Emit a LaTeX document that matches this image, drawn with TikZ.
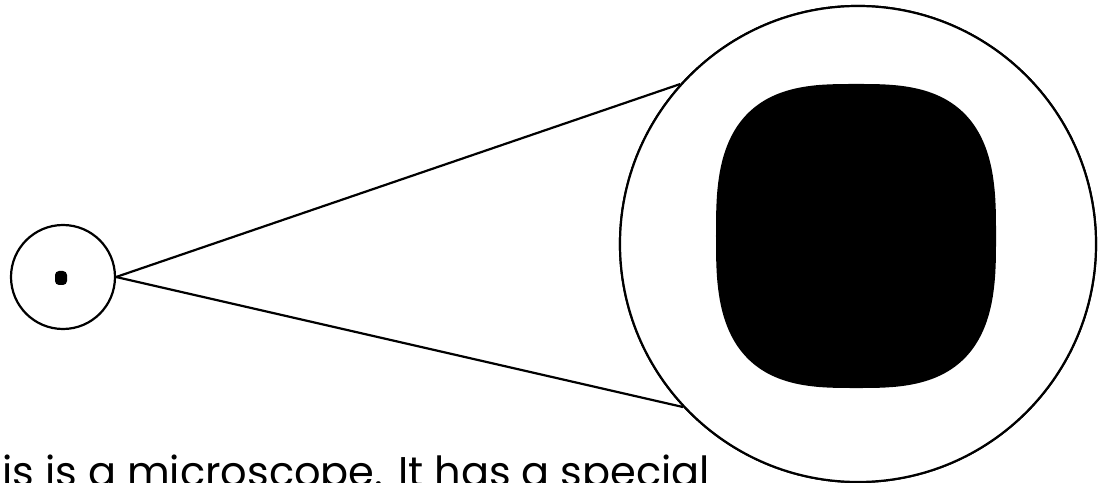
\documentclass[tikz,border=0pt]{standalone}
\usepackage{fontspec}
\setmainfont{Poppins}
\tikzset{
  outline/.style={draw=black, line width=2.2pt, fill=white, circle, inner sep=0pt},
  ray/.style={draw=black, line width=2.2pt},
  caption/.style={font=\fontsize{41.5}{46}\selectfont, anchor=base west, inner sep=0pt}
}
\begin{document}
\begin{tikzpicture}[x=1pt,y=1pt]
\useasboundingbox (0,0) rectangle (1110,482);
\clip (0,0) rectangle (1110,482);
\node[outline, minimum size=476pt] (big) at (858,238) {};
\node[outline, minimum size=104pt] (small) at (63,205) {};
\draw[ray] (small.east) -- (big.138);
\draw[ray] (small.east) -- (big.223);
\draw[ray, fill=white] (big) circle (238);
\fill[black] plot[domain=0:360, samples=240, smooth cycle]
  ({856+140*sign(cos(\x))*abs(cos(\x))^0.68}, {246+152*sign(sin(\x))*abs(sin(\x))^0.68});
\node[fill=black, rounded corners=4pt, minimum width=12pt, minimum height=14pt, inner sep=0pt] (dot) at (61,204) {};
\node[caption] (txt) at (2,-4) {is is a microscope. It has a special};
\end{tikzpicture}
\end{document}
